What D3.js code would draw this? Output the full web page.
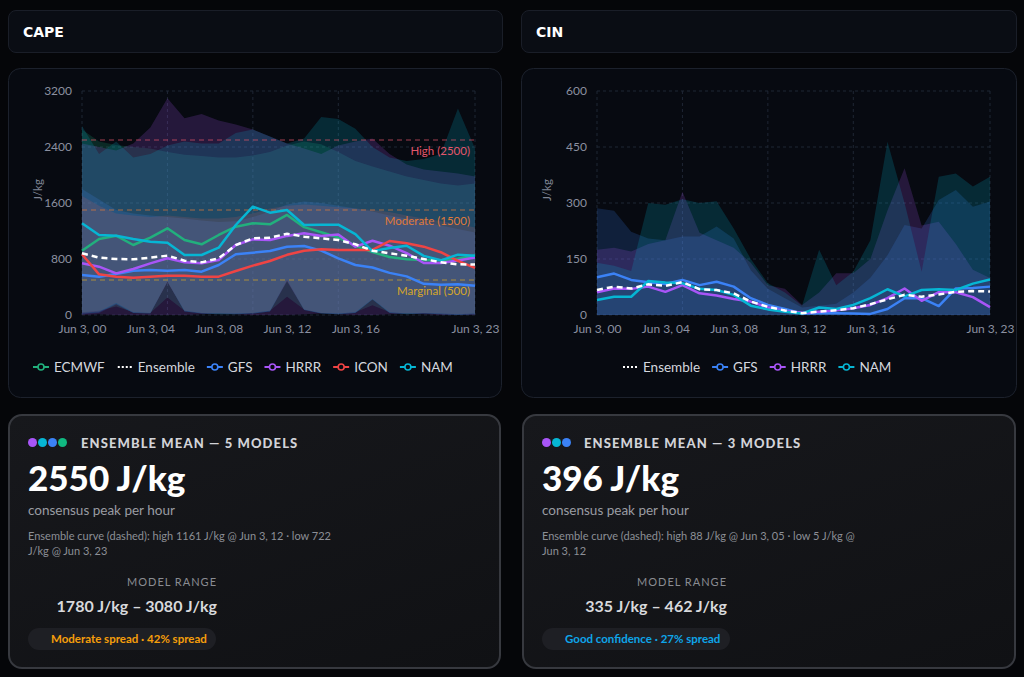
<!DOCTYPE html>
<html>
<head>
<meta charset="utf-8">
<script src="https://cdn.jsdelivr.net/npm/d3@7"></script>
<style>
  body { margin: 0; background: #050609; width: 1024px; height: 677px; overflow: hidden; font-family: Lato, "Noto Sans", sans-serif; }
  .hdr { position: absolute; top: 10px; height: 43px; box-sizing: border-box; border: 1px solid #1a1e28; background: #0a0d14; border-radius: 8px; color: #fff; font: bold 14px "DejaVu Sans", sans-serif; padding-left: 14px; line-height: 43px; }
  #charts { position: absolute; left: 0; top: 0; }
  .stat { position: absolute; top: 414px; height: 255px; box-sizing: border-box; border: 2px solid #37393f; border-radius: 14px; background: linear-gradient(160deg, #17181c 0%, #101114 100%); }
  .stat div { position: absolute; white-space: nowrap; }
  .dot { width: 9px; height: 9px; border-radius: 50%; top: 22px; }
  .ttl { top: 21px; font-weight: 900; font-size: 13px; letter-spacing: 1.1px; color: #d2d3d8; line-height: 1; }
  .big { left: 18px; top: 44px; font-weight: 900; font-size: 35px; color: #fff; line-height: 1; }
  .sub { left: 18px; top: 88px; font-size: 13.5px; color: #9a9ca3; line-height: 1; }
  .note { left: 18px; top: 112px; font-size: 11px; line-height: 15px; color: #8c8f96; white-space: normal !important; width: 318px; }
  .mr { left: 0; top: 160px; font-size: 11px; letter-spacing: 1px; color: #8a8c92; text-align: right; line-height: 1; }
  .rng { left: 0; top: 182px; font-size: 16px; font-weight: 700; color: #d8d9dc; text-align: right; line-height: 1; }
  .badge { left: 18px; top: 212px; width: 188px; height: 22px; border-radius: 11px; background: #1e1f24; font-size: 11.5px; font-weight: 700; line-height: 22px; box-sizing: border-box; padding-left: 23px; }
</style>
</head>
<body>
<div class="hdr" style="left:8px;width:495px">CAPE</div>
<div class="hdr" style="left:521px;width:496px">CIN</div>
<svg id="charts" width="1024" height="410"></svg>

<div class="stat" style="left:8px;width:493px">
  <div class="dot" style="left:18px;background:#a855f7"></div>
  <div class="dot" style="left:28px;background:#06b6d4"></div>
  <div class="dot" style="left:38px;background:#3b82f6"></div>
  <div class="dot" style="left:48px;background:#10b981"></div>
  <div class="ttl" style="left:71px">ENSEMBLE MEAN — 5 MODELS</div>
  <div class="big">2550 J/kg</div>
  <div class="sub">consensus peak per hour</div>
  <div class="note">Ensemble curve (dashed): high 1161 J/kg @ Jun 3, 12 · low 722 J/kg @ Jun 3, 23</div>
  <div class="mr" style="width:207px">MODEL RANGE</div>
  <div class="rng" style="width:207px">1780 J/kg – 3080 J/kg</div>
  <div class="badge" style="color:#f59e0b">Moderate spread · 42% spread</div>
</div>

<div class="stat" style="left:522px;width:494px">
  <div class="dot" style="left:18px;background:#a855f7"></div>
  <div class="dot" style="left:28px;background:#06b6d4"></div>
  <div class="dot" style="left:38px;background:#3b82f6"></div>
  <div class="ttl" style="left:60px">ENSEMBLE MEAN — 3 MODELS</div>
  <div class="big">396 J/kg</div>
  <div class="sub">consensus peak per hour</div>
  <div class="note">Ensemble curve (dashed): high 88 J/kg @ Jun 3, 05 · low 5 J/kg @ Jun 3, 12</div>
  <div class="mr" style="width:203px">MODEL RANGE</div>
  <div class="rng" style="width:203px">335 J/kg – 462 J/kg</div>
  <div class="badge" style="color:#0ea5e9">Good confidence · 27% spread</div>
</div>

<script>
// hours of Jun 3 (00..23)
const hours = [0,1,2,3,4,5,6,7,8,9,10,11,12,13,14,15,16,17,18,19,20,21,22,23];
const xTickHours = [0, 4, 8, 12, 16, 23];
const gridHours = [0, 5, 10, 15, 23];

const modelColors = { ECMWF: "#22b07d", GFS: "#3b82f6", HRRR: "#a855f7", ICON: "#ef4444", NAM: "#06b6d4" };

// ---- CAPE (J/kg) ----
const capeTicks = [0, 800, 1600, 2400, 3200];
const capeEcmwf = [919,1086,1133,1000,1105,1238,1071,1010,1143,1262,1310,1295,1429,1255,1183,1107,993,898,828,798,786,783,805,852];
const capeGfs   = [571,548,586,633,643,633,643,619,714,867,890,914,976,986,920,810,714,678,602,552,445,433,440,419];
const capeHrrr  = [738,690,595,657,738,810,752,738,786,1000,1081,1071,1130,1167,1130,1150,976,1060,990,885,743,743,780,820];
const capeIcon  = [867,581,548,533,548,562,562,548,548,629,705,771,860,917,938,929,929,929,1057,1024,976,897,774,672];
const capeNam   = [1310,1143,1133,1086,1048,1033,857,857,962,1286,1548,1462,1500,1286,1290,1290,1155,910,957,990,845,781,862,845];
const capeEns   = [881,819,800,795,819,848,776,752,810,1000,1095,1105,1161,1119,1095,1071,1010,919,881,848,800,752,724,722];

// per-model spread bands (upper / lower)
const capeEcmwfHi = [2650,2480,2430,2400,2380,2330,2290,2270,2250,2250,2280,2330,2420,2480,2440,2330,2200,2120,2050,1980,1930,1880,1850,1880];
const capeEcmwfLo = [40,60,120,40,30,250,60,30,20,20,30,60,260,80,30,20,40,140,40,20,30,20,10,20];
const capeGfsHi   = [1800,1650,1500,1450,1420,1400,1380,1350,1330,1340,1400,1480,1580,1620,1600,1560,1520,1480,1420,1380,1330,1280,1230,1180];
const capeGfsLo   = [10,30,150,30,20,470,50,20,10,10,20,50,480,70,20,10,30,220,30,10,20,10,0,10];
const capeHrrrHi  = [2450,2400,2350,2450,2680,3095,2810,2870,2780,2720,2650,2550,2450,2380,2300,2420,2480,2520,2300,2150,2080,2050,2020,1980];
const capeHrrrLo  = [0,10,0,0,0,0,0,10,20,10,0,0,0,10,20,10,0,0,10,20,10,0,0,0];
const capeIconHi  = [1700,1560,1450,1420,1400,1420,1400,1380,1380,1400,1450,1520,1560,1580,1560,1540,1520,1500,1470,1420,1380,1340,1300,1250];
const capeIconLo  = [30,50,170,40,30,470,60,30,20,20,30,60,490,80,30,20,40,230,40,20,30,20,10,20];
const capeNamHi   = [2700,2300,2480,2250,2300,2420,2480,2450,2450,2600,2650,2550,2450,2520,2830,2800,2660,2400,2250,2200,2230,2300,2950,2380];
const capeNamLo   = [20,40,160,30,20,480,50,20,10,10,20,50,500,70,20,10,30,220,30,10,20,10,0,10];

const capeThresholds = [
  { value: 2500, label: "High (2500)", color: "#e3566b" },
  { value: 1500, label: "Moderate (1500)", color: "#e07a3a" },
  { value: 500, label: "Marginal (500)", color: "#d6a62a" }
];

// ---- CIN (J/kg) ----
const cinTicks = [0, 150, 300, 450, 600];
const cinGfs  = [101,111,94,88,83,94,80,89,76,45,27,16,4,5,5,4,3,16,45,45,24,71,72,76];
const cinHrrr = [61,71,70,76,62,80,58,52,43,36,20,11,6,9,13,18,27,45,71,38,61,61,48,21];
const cinNam  = [40,49,49,91,87,85,70,67,54,25,15,9,4,20,16,27,45,69,50,67,69,67,84,95];
const cinEns  = [67,76,71,82,78,88,69,67,58,36,22,12,5,9,13,18,29,42,54,49,55,62,64,63];

const cinGfsHi  = [286,279,223,205,200,210,210,237,205,120,70,45,20,25,30,60,100,160,241,232,308,335,290,304];
const cinHrrrHi = [175,180,170,190,200,330,220,200,180,140,80,70,27,60,112,112,150,280,393,240,250,190,121,99];
const cinNamHi  = [140,132,118,300,295,310,300,305,232,150,85,60,25,175,80,116,200,464,300,116,370,379,344,370];

const svg = d3.select("#charts");
const fontUI = "Lato, 'Noto Sans', sans-serif";

function drawChart(cfg) {
  const g = svg.append("g");
  g.append("rect")
    .attr("x", cfg.card[0] + 0.5).attr("y", 68.5)
    .attr("width", cfg.card[1] - 1).attr("height", 329)
    .attr("rx", 12)
    .attr("fill", "#070a11").attr("stroke", "#1c212c");

  const x = d3.scaleLinear().domain([0, 23]).range([cfg.left, cfg.right]);
  const y = d3.scaleLinear().domain([0, cfg.yMax]).range([315, 91]);

  // grid
  const grid = g.append("g").attr("stroke", "#1f2634").attr("stroke-dasharray", "3 3").attr("stroke-width", 1);
  grid.selectAll(".h").data(cfg.yTicks).join("line")
    .attr("x1", cfg.left).attr("x2", cfg.right)
    .attr("y1", d => y(d)).attr("y2", d => y(d));
  grid.selectAll(".v").data(gridHours).join("line")
    .attr("x1", d => x(d)).attr("x2", d => x(d))
    .attr("y1", 91).attr("y2", 315);

  // bands
  cfg.bands.forEach(b => {
    const area = d3.area()
      .x((d, i) => x(hours[i]))
      .y0((d, i) => y(b.lo ? b.lo[i] : 0))
      .y1(d => y(d));
    g.append("path").datum(b.hi)
      .attr("d", area)
      .attr("fill", modelColors[b.model])
      .attr("fill-opacity", 0.19);
  });

  // thresholds
  (cfg.thresholds || []).forEach(t => {
    g.append("line")
      .attr("x1", cfg.left).attr("x2", cfg.right)
      .attr("y1", y(t.value)).attr("y2", y(t.value))
      .attr("stroke", t.color).attr("stroke-opacity", 0.7)
      .attr("stroke-dasharray", "5 4").attr("stroke-width", 1.2);
    g.append("text")
      .attr("x", cfg.right - 5).attr("y", y(t.value) + 11)
      .attr("dy", "0.35em").attr("text-anchor", "end")
      .attr("fill", t.color).style("font", `11.5px ${fontUI}`)
      .text(t.label);
  });

  // model lines
  const line = d3.line().x((d, i) => x(hours[i])).y(d => y(d));
  cfg.lines.forEach(l => {
    g.append("path").datum(l.values)
      .attr("d", line).attr("fill", "none")
      .attr("stroke", modelColors[l.model])
      .attr("stroke-width", 2.5).attr("stroke-linejoin", "round");
  });
  g.append("path").datum(cfg.ensemble)
    .attr("d", line).attr("fill", "none")
    .attr("stroke", "#ffffff").attr("stroke-width", 2.5)
    .attr("stroke-dasharray", "6 4");

  // axes
  const yAxis = d3.axisLeft(y).tickValues(cfg.yTicks).tickSize(0).tickPadding(10).tickFormat(d3.format("d"));
  g.append("g").attr("transform", `translate(${cfg.left},0)`).call(yAxis)
    .call(a => a.select(".domain").remove())
    .selectAll("text").attr("fill", "#8b90a0").style("font", `12px ${fontUI}`);
  const xAxis = d3.axisBottom(x).tickValues(xTickHours).tickSize(0).tickPadding(9)
    .tickFormat(h => "Jun 3, " + String(h).padStart(2, "0"));
  g.append("g").attr("transform", "translate(0,315)").call(xAxis)
    .call(a => a.select(".domain").remove())
    .selectAll("text").attr("fill", "#8b90a0").style("font", `12px ${fontUI}`);

  g.append("text")
    .attr("transform", `translate(${cfg.yLabelX},190) rotate(-90)`)
    .attr("text-anchor", "middle").attr("dy", "0.35em")
    .attr("fill", "#7f8494").style("font", `11.5px ${fontUI}`)
    .text("J/kg");

  // legend
  const leg = g.append("g");
  let cx = 0;
  cfg.legend.forEach(name => {
    const it = leg.append("g").attr("transform", `translate(${cx},0)`);
    if (name === "Ensemble") {
      it.append("line").attr("x1", 1).attr("x2", 15).attr("y1", 0).attr("y2", 0)
        .attr("stroke", "#fff").attr("stroke-width", 2).attr("stroke-dasharray", "2 2");
    } else {
      it.append("line").attr("x1", 0).attr("x2", 16).attr("y1", 0).attr("y2", 0)
        .attr("stroke", modelColors[name]).attr("stroke-width", 2);
      it.append("circle").attr("cx", 8).attr("cy", 0).attr("r", 3)
        .attr("fill", "#070a11").attr("stroke", modelColors[name]).attr("stroke-width", 1.6);
    }
    const t = it.append("text").attr("x", 21).attr("dy", "0.35em")
      .attr("fill", "#d4d7de").style("font", `13.5px ${fontUI}`).text(name);
    cx += 21 + t.node().getComputedTextLength() + 12;
  });
  leg.attr("transform", `translate(${cfg.legendStart},367)`);
}

drawChart({
  card: [8, 494], left: 82, right: 475, yMax: 3200, yTicks: capeTicks, yLabelX: 38,
  bands: [
    { model: "ECMWF", hi: capeEcmwfHi, lo: capeEcmwfLo },
    { model: "GFS", hi: capeGfsHi, lo: capeGfsLo },
    { model: "HRRR", hi: capeHrrrHi, lo: capeHrrrLo },
    { model: "ICON", hi: capeIconHi, lo: capeIconLo },
    { model: "NAM", hi: capeNamHi, lo: capeNamLo }
  ],
  lines: [
    { model: "ECMWF", values: capeEcmwf },
    { model: "GFS", values: capeGfs },
    { model: "HRRR", values: capeHrrr },
    { model: "ICON", values: capeIcon },
    { model: "NAM", values: capeNam }
  ],
  ensemble: capeEns,
  thresholds: capeThresholds,
  legend: ["ECMWF", "Ensemble", "GFS", "HRRR", "ICON", "NAM"],
  legendStart: 33
});

drawChart({
  card: [521, 496], left: 597, right: 990, yMax: 600, yTicks: cinTicks, yLabelX: 547,
  bands: [
    { model: "GFS", hi: cinGfsHi },
    { model: "HRRR", hi: cinHrrrHi },
    { model: "NAM", hi: cinNamHi }
  ],
  lines: [
    { model: "GFS", values: cinGfs },
    { model: "HRRR", values: cinHrrr },
    { model: "NAM", values: cinNam }
  ],
  ensemble: cinEns,
  legend: ["Ensemble", "GFS", "HRRR", "NAM"],
  legendStart: 622
});
</script>
</body>
</html>
